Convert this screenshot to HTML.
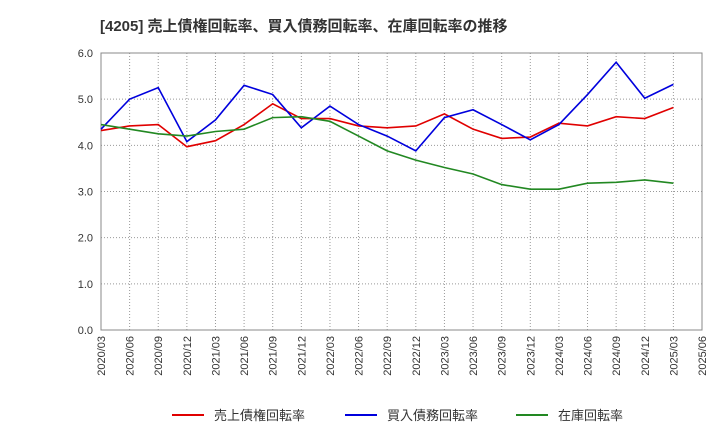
<!DOCTYPE html>
<html><head><meta charset="utf-8"><style>
body{margin:0;background:#fff;font-family:"Liberation Sans","Noto Sans CJK JP",sans-serif;}
svg text{font-family:"Liberation Sans","Noto Sans CJK JP",sans-serif;}
</style></head><body>
<svg id="c" width="720" height="440" xmlns="http://www.w3.org/2000/svg">
<text x="100" y="31" font-size="15" font-weight="bold" fill="#333">[4205]  売上債権回転率、買入債務回転率、在庫回転率の推移</text>
</svg>
<script>
const categories=["2020/03","2020/06","2020/09","2020/12","2021/03","2021/06","2021/09","2021/12","2022/03","2022/06","2022/09","2022/12","2023/03","2023/06","2023/09","2023/12","2024/03","2024/06","2024/09","2024/12","2025/03","2025/06"];
const receivables=[4.32,4.42,4.45,3.97,4.1,4.45,4.9,4.58,4.58,4.42,4.38,4.42,4.68,4.35,4.15,4.18,4.48,4.42,4.62,4.58,4.82];
const payables=[4.35,5.0,5.25,4.08,4.55,5.3,5.1,4.38,4.85,4.45,4.2,3.88,4.6,4.77,4.45,4.12,4.45,5.1,5.8,5.02,5.32];
const inventory=[4.45,4.35,4.25,4.2,4.3,4.35,4.6,4.62,4.52,4.2,3.88,3.68,3.52,3.38,3.15,3.05,3.05,3.18,3.2,3.25,3.18];
const yTicks=[0,1,2,3,4,5,6];
const seriesNames=["売上債権回転率","買入債務回転率","在庫回転率"];
const NS="http://www.w3.org/2000/svg",svg=document.getElementById('c');
const L=101,R=702,T=53,B=330,yMax=6;
const x=i=>L+i*(R-L)/(categories.length-1);
const y=v=>B-v/yMax*(B-T);
function mk(t,a){const e=document.createElementNS(NS,t);for(const k in a)e.setAttribute(k,a[k]);svg.appendChild(e);return e;}
yTicks.forEach(v=>{
 const g=mk('line',{x1:L,x2:R,y1:y(v),y2:y(v),stroke:'#999','stroke-dasharray':'1,2'});
 
 
 const t=mk('text',{x:L-8,y:y(v)+4,'text-anchor':'end','font-size':11,fill:'#333'});t.textContent=v.toFixed(1);
 
 
});
categories.forEach((c,i)=>{
 const g=mk('line',{x1:x(i),x2:x(i),y1:T,y2:B,stroke:'#999','stroke-dasharray':'1,2'});
 
 
 const t=mk('text',{transform:`translate(${x(i)+4},${B+6}) rotate(-90)`,'text-anchor':'end','font-size':11,fill:'#333'});t.textContent=c;
 
 
});
const fr=mk('rect',{x:L,y:T,width:R-L,height:B-T,fill:'none',stroke:'#888'});


const cols=['#e00000','#0000dd','#228822'];
[receivables,payables,inventory].forEach((d,s)=>{
 const p=mk('polyline',{points:d.map((v,i)=>x(i)+','+y(v)).join(' '),fill:'none',stroke:cols[s],'stroke-width':1.6});
 
 
});
const lx=[172,345,516];
seriesNames.forEach((n,s)=>{
 const l=mk('line',{x1:lx[s],x2:lx[s]+32,y1:415,y2:415,stroke:cols[s],'stroke-width':2});
 
 
 const t=mk('text',{x:lx[s]+42,y:420,'font-size':13,fill:'#333'});t.textContent=n;
 
 
});
</script>
</body></html>
